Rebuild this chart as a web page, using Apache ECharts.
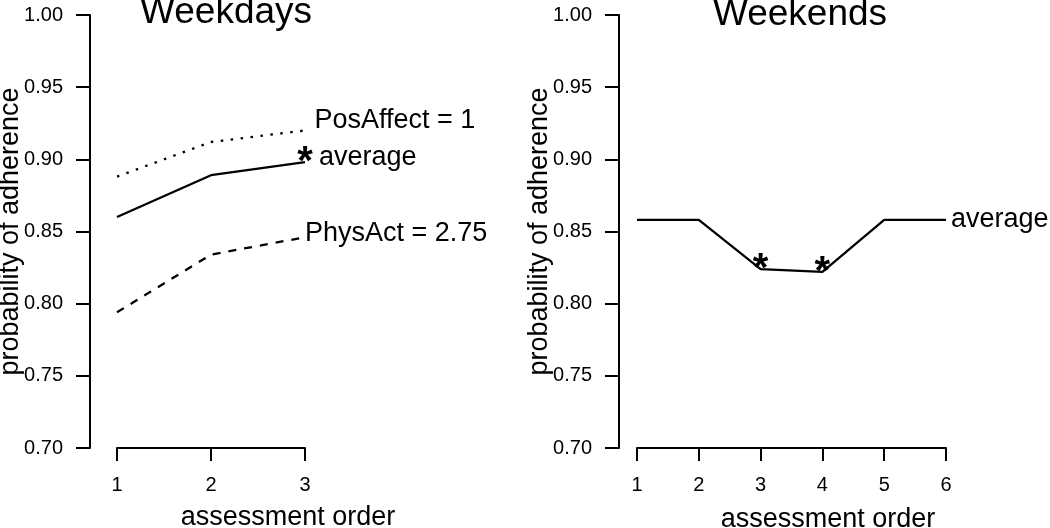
<!DOCTYPE html>
<html>
<head>
<meta charset="utf-8">
<script src="https://cdn.jsdelivr.net/npm/echarts@6/dist/echarts.min.js"></script>
<style>
  html, body { margin: 0; padding: 0; background: #fff; }
  #chart { width: 1050px; height: 528px; }
</style>
</head>
<body>
<div id="chart"></div>
<script>
// ---- data ----
const weekdayX = [1, 2, 3];
const weekdayPosAffect = [0.888, 0.912, 0.920];
const weekdayAverage = [0.860, 0.889, 0.898];
const weekdayPhysAct = [0.794, 0.834, 0.846];
const weekdaySigX = [3];

const weekendX = [1, 2, 3, 4, 5, 6];
const weekendAverage = [0.858, 0.858, 0.824, 0.822, 0.858, 0.858];
const weekendSigX = [3, 4];

const yTickValues = [0.70, 0.75, 0.80, 0.85, 0.90, 0.95, 1.00];
const yTickLabels = ['0.70', '0.75', '0.80', '0.85', '0.90', '0.95', '1.00'];
const weekdayTickLabels = ['1', '2', '3'];
const weekendTickLabels = ['1', '2', '3', '4', '5', '6'];

const titles = ['Weekdays', 'Weekends'];
const xName = 'assessment order';
const yName = 'probability of adherence';
const labelPosAffect = 'PosAffect = 1';
const labelAverage = 'average';
const labelPhysAct = 'PhysAct = 2.75';

// ---- helpers ----
const FONT = 'Liberation Sans';
const pairs = (xs, ys) => xs.map((x, i) => [x, ys[i]]);
const sigPoints = (sigX, xs, ys) => sigX.map(x => [x, ys[xs.indexOf(x)]]);
const yLabelFmt = v => {
  const i = yTickValues.findIndex(t => Math.abs(t - v) < 1e-6);
  return i >= 0 ? yTickLabels[i] : '';
};
const xLabelFmt = labels => v => {
  const i = Math.round(v) - 1;
  return (Math.abs(v - Math.round(v)) < 1e-6 && labels[i] !== undefined) ? labels[i] : '';
};

function makeXAxis(gridIndex, maxX, labels) {
  return {
    type: 'value', gridIndex, min: 1, max: maxX, interval: 1,
    axisLine: { show: true, onZero: false, lineStyle: { color: '#000', width: 2 } },
    axisTick: { show: true, length: 13, lineStyle: { color: '#000', width: 2 } },
    axisLabel: { show: true, margin: 27, color: '#000', fontSize: 20, fontFamily: FONT, formatter: xLabelFmt(labels) },
    splitLine: { show: false }
  };
}
function makeYAxis(gridIndex, offset) {
  return {
    type: 'value', gridIndex, min: 0.70, max: 1.00, interval: 0.05, offset,
    axisLine: { show: true, onZero: false, lineStyle: { color: '#000', width: 2 } },
    axisTick: { show: true, length: 14, lineStyle: { color: '#000', width: 2 } },
    axisLabel: { show: true, margin: 27, color: '#000', fontSize: 20, fontFamily: FONT, formatter: yLabelFmt },
    splitLine: { show: false },
    name: yName, nameLocation: 'middle', nameGap: 66, nameRotate: 90, nameMoveOverlap: false,
    nameTextStyle: { color: '#000', fontSize: 27, fontFamily: FONT }
  };
}
function lineSeries(idx, data, type, label, offset) {
  return {
    type: 'line', xAxisIndex: idx, yAxisIndex: idx, data,
    symbol: 'none', smooth: false, animation: false, silent: true,
    lineStyle: { color: '#000', width: 2.3, type, cap: 'butt' },
    endLabel: { show: true, formatter: label, color: '#000', fontSize: 27, fontFamily: FONT, distance: 0, offset }
  };
}
function sigSeries(idx, data) {
  return {
    type: 'scatter', xAxisIndex: idx, yAxisIndex: idx, data,
    symbol: 'circle', symbolSize: 2, itemStyle: { color: 'rgba(0,0,0,0)' }, animation: false, silent: true,
    z: 5,
    label: { show: true, position: 'inside', formatter: '*', color: '#000', opacity: 1,
             textBorderWidth: 0, fontSize: 40, fontWeight: 'bold', fontFamily: FONT, offset: [0, 1] }
  };
}

const chart = echarts.init(document.getElementById('chart'), null, { renderer: 'canvas' });
chart.setOption({
  backgroundColor: '#fff',
  animation: false,
  grid: [
    { left: 117, top: 15, width: 188, height: 433, containLabel: false, outerBoundsMode: 'none' },
    { left: 637, top: 15, width: 309, height: 433, containLabel: false, outerBoundsMode: 'none' }
  ],
  xAxis: [makeXAxis(0, 3, weekdayTickLabels), makeXAxis(1, 6, weekendTickLabels)],
  yAxis: [makeYAxis(0, 27), makeYAxis(1, 18)],
  graphic: [
    { type: 'text', x: 226, y: 26 - 0.3465 * 37, style: { text: titles[0], fill: '#000', font: '37px ' + FONT, textAlign: 'center', textVerticalAlign: 'middle' } },
    { type: 'text', x: 800, y: 28 - 0.3465 * 37, style: { text: titles[1], fill: '#000', font: '37px ' + FONT, textAlign: 'center', textVerticalAlign: 'middle' } },
    { type: 'text', x: 288, y: 527 - 0.3465 * 27, style: { text: xName, fill: '#000', font: '27px ' + FONT, textAlign: 'center', textVerticalAlign: 'middle' } },
    { type: 'text', x: 828, y: 529 - 0.3465 * 27, style: { text: xName, fill: '#000', font: '27px ' + FONT, textAlign: 'center', textVerticalAlign: 'middle' } }
  ],
  series: [
    lineSeries(0, pairs(weekdayX, weekdayPosAffect), [2.5, 7.5], labelPosAffect, [9.5, -10]),
    lineSeries(0, pairs(weekdayX, weekdayAverage), 'solid', labelAverage, [14, -4.3]),
    lineSeries(0, pairs(weekdayX, weekdayPhysAct), [8, 8], labelPhysAct, [0, -3.5]),
    sigSeries(0, sigPoints(weekdaySigX, weekdayX, weekdayAverage)),
    lineSeries(1, pairs(weekendX, weekendAverage), 'solid', labelAverage, [5, -0.7]),
    sigSeries(1, sigPoints(weekendSigX, weekendX, weekendAverage))
  ]
});
</script>
</body>
</html>
